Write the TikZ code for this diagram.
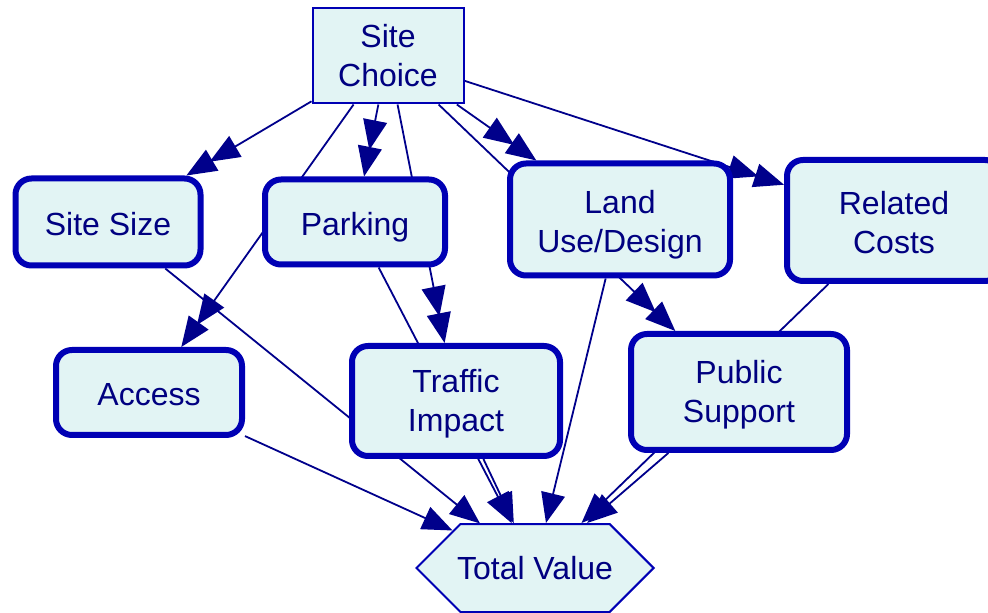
\documentclass[tikz,border=0pt]{standalone}
\usepackage{fontspec}
\setmainfont{Liberation Sans}
\usetikzlibrary{shapes,arrows.meta,backgrounds}
\definecolor{nodefill}{HTML}{E2F4F4}
\definecolor{nodeline}{HTML}{0000B4}
\definecolor{edgeline}{HTML}{00008B}
\definecolor{labeltext}{HTML}{000080}

\begin{document}
\begin{tikzpicture}
                [
                    x=0.5pt, y=-0.5pt,
                    font=\fontsize{16}{19.5}\selectfont,
                    oneline/.style={text height=13.5pt, text depth=0pt},
                    twoline/.style={text height=30.5pt, text depth=0pt},
                    decisionnode/.style={rectangle, draw=nodeline, fill=nodefill, line width=1pt, text=labeltext, align=center, twoline, minimum width=75.5pt, minimum height=47.5pt},
                    chancenode/.style={rectangle, rounded corners=8pt, draw=nodeline, fill=nodefill, line width=3pt, text=labeltext, align=center},
                    valuenode/.style={signal, signal to=west and east, signal pointer angle=90, draw=nodeline, fill=nodefill, line width=1pt, text=labeltext, inner xsep=-1.7pt, minimum height=44pt},
                    influence/.style={draw=edgeline, line width=0.9pt, -{Triangle[length=15pt,width=12pt]}},
                    choiceinfluence/.style={draw=edgeline, line width=0.9pt, -{Triangle[length=15pt,width=12pt,sep=-1.5pt]Triangle[length=15pt,width=12pt]}},
                ]
                \useasboundingbox (0,0) rectangle (988,613);

                \node [decisionnode] (choice) at (388,56) {Site\\Choice};
                \node [chancenode, oneline, minimum width=92.5pt, minimum height=43.5pt] (size) at (108,222) {Site Size};
                \node [chancenode, oneline, minimum width=90pt, minimum height=42.5pt] (parking) at (355,222) {Parking};
                \node [chancenode, twoline, text height=33pt, minimum width=110pt, minimum height=56pt] (landuse) at (620,219.5) {Land\\Use/Design};
                \node [chancenode, twoline, text height=33.5pt, minimum width=107pt, minimum height=60.5pt] (costs) at (894,220.5) {Related\\Costs};
                \node [chancenode, oneline, minimum width=93pt, minimum height=42.5pt] (access) at (149,392.5) {Access};
                \node [chancenode, twoline, minimum width=104pt, minimum height=55pt] (traffic) at (456,401) {Traffic\\Impact};
                \node [chancenode, twoline, minimum width=108pt, minimum height=58pt] (support) at (739,392) {Public\\Support};
                \node [valuenode] (total) at (535,568) {Total Value};

                % arcs sit behind the nodes, so the ones crossing a box are hidden there
                \begin{pgfonlayer}{background}
                \draw [choiceinfluence] (choice) -- (size);
                \draw [choiceinfluence] (choice) -- (access);
                \draw [choiceinfluence] (choice) -- (parking);
                \draw [choiceinfluence] (choice) -- (traffic);
                \draw [choiceinfluence] (choice) -- (support);
                \draw [choiceinfluence] (choice) -- (landuse);
                \draw [choiceinfluence] (choice) -- (costs);

                \draw [influence] (access) -- (total);
                \draw [influence] (size) -- (total);
                \draw [influence] (parking) -- (total);
                \draw [influence] (traffic) -- (total);
                \draw [influence] (landuse) -- (total);
                \draw [influence] (support) -- (total);
                \draw [influence] (costs) -- (total);
                \end{pgfonlayer}
\end{tikzpicture}
\end{document}
